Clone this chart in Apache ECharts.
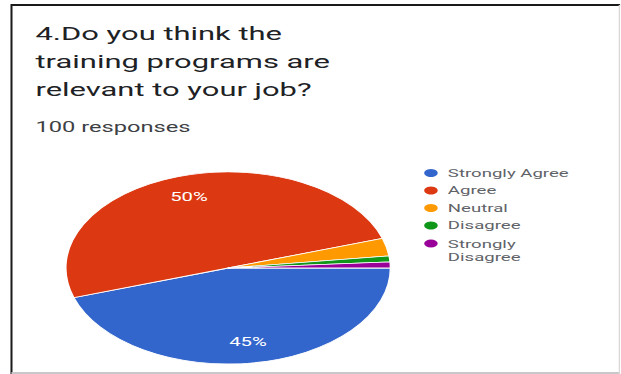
<!DOCTYPE html>
<html>
<head>
<meta charset="utf-8">
<script src="https://cdn.jsdelivr.net/npm/echarts@6/dist/echarts.min.js"></script>
<style>
  html, body { margin: 0; padding: 0; background: #fff; overflow: hidden; }
  /* the source screenshot is stretched sideways, so draw narrow and stretch */
  #chart { width: 367px; height: 374px; transform: scaleX(1.69); transform-origin: 0 0; }
</style>
</head>
<body>
<div id="chart"></div>
<script>
const question = '4.Do you think the\ntraining programs are\nrelevant to your job?';
const responses = '100 responses';
const categories = ['Strongly Agree', 'Agree', 'Neutral', 'Disagree', 'Strongly Disagree'];
const shares = [45, 50, 3, 1, 1];

const palette = ['#3366cc', '#dc3912', '#ff9900', '#109618', '#990099'];

const pieData = categories.map((name, i) => ({ name: name, value: shares[i] }));

// dot sitting at the top of a taller box, so it lines up with the first line of a wrapped name
const topDot = 'path://M5,0L5,0M0,6a5,5 0 1,0 10,0a5,5 0 1,0 -10,0ZM5,26L5,26';

const chart = echarts.init(document.getElementById('chart'), null, { renderer: 'svg' });

chart.setOption({
  animation: false,
  color: palette,
  title: {
    text: question,
    subtext: responses,
    left: 21,
    top: 20,
    padding: 0,
    itemGap: 15,
    textStyle: { fontFamily: 'Roboto', fontSize: 18.3, fontWeight: 'normal', color: '#202124', lineHeight: 28 },
    subtextStyle: { fontFamily: 'Roboto', fontSize: 14, color: '#3c4043', lineHeight: 16 }
  },
  legend: {
    orient: 'vertical',
    left: 249,
    top: 166.5,
    padding: 0,
    itemGap: 4.5,
    itemWidth: 10,
    itemHeight: 36,
    icon: 'circle',
    symbolKeepAspect: true,
    selectedMode: false,
    formatter: name => name === 'Strongly Disagree' ? 'Strongly\nDisagree' : name,
    data: categories.map(name => name === 'Strongly Disagree' ? { name: name, icon: topDot } : name),
    textStyle: { fontFamily: 'Roboto', fontSize: 11, color: '#5f6368', lineHeight: 13 }
  },
  graphic: [
    { type: 'line', shape: { x1: 6.8, y1: 5, x2: 367, y2: 5 }, style: { stroke: '#1a1a1a', lineWidth: 2 } },
    { type: 'line', shape: { x1: 6.8, y1: 4, x2: 6.8, y2: 374 }, style: { stroke: '#1a1a1a', lineWidth: 1.2 } },
    { type: 'line', shape: { x1: 6.8, y1: 373, x2: 367, y2: 373 }, style: { stroke: '#c8c8c8', lineWidth: 2 } },
    { type: 'line', shape: { x1: 366.5, y1: 5, x2: 366.5, y2: 374 }, style: { stroke: '#d8d8d8', lineWidth: 0.8 } }
  ],
  series: [
    {
      type: 'pie',
      center: [135, 268],
      radius: [0, 96],
      startAngle: 0,
      clockwise: true,
      silent: true,
      itemStyle: { borderColor: '#fff', borderWidth: 0.8 },
      label: { show: false },
      labelLine: { show: false },
      emphasis: { disabled: true },
      data: pieData
    },
    {
      // transparent ring only to put the percent labels near the rim
      type: 'pie',
      center: [135, 268],
      radius: [53, 91],
      startAngle: 0,
      clockwise: true,
      silent: true,
      itemStyle: { color: 'rgba(0,0,0,0)', borderWidth: 0 },
      label: {
        show: true,
        position: 'inside',
        formatter: p => p.percent >= 5 ? Math.round(p.percent) + '%' : '',
        fontFamily: 'Roboto',
        fontSize: 12,
        color: '#fff'
      },
      labelLine: { show: false },
      emphasis: { disabled: true },
      data: pieData
    }
  ]
});
</script>
</body>
</html>
